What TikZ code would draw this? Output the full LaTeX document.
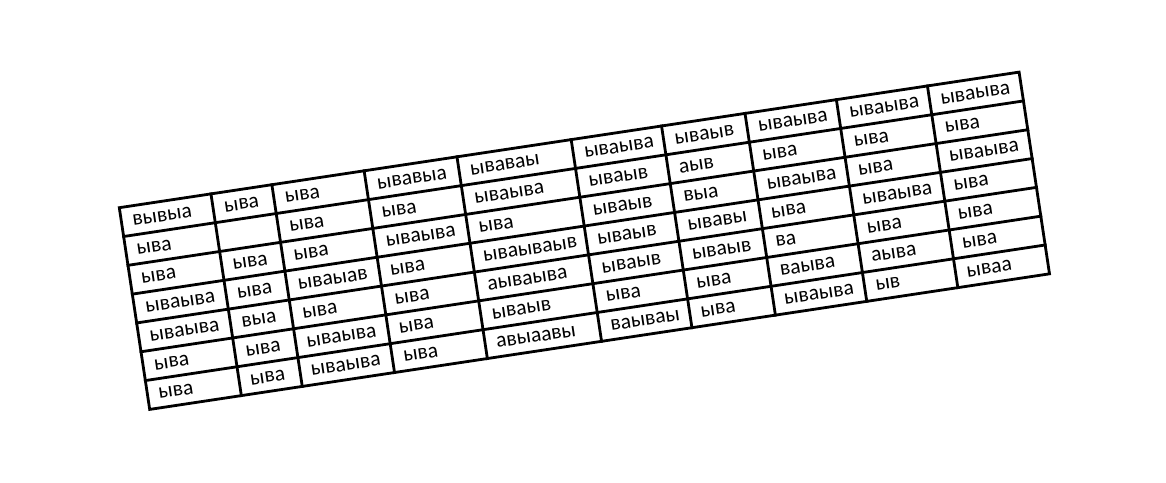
\documentclass[tikz,border=0pt]{standalone}
\usepackage{fontspec}
\setmainfont{Carlito}
\begin{document}
\begin{tikzpicture}[x=1pt,y=1pt]
\useasboundingbox (0,0) rectangle (1166,482);
\tikzset{
  celltext/.style={anchor=base west, inner sep=0pt, font=\fontsize{21.6}{21.6}\selectfont, rotate=8.57},
  gridline/.style={line width=2.8pt, line cap=rect}
}
\def\H{29.14}
\begin{scope}[shift={(119.3,274.3)}, rotate=8.57]
  \draw[gridline] (0,0) rectangle (910,-204);
  \foreach \r in {1,...,6} \draw[gridline] (0,-\r*\H) -- (910,-\r*\H);
  \foreach \c in {92.7,154.3,247.6,341.5,457,548.4,632.8,725.2,817.3} \draw[gridline] (\c,0) -- (\c,-204);
  \foreach \x/\rr/\t [count=\i] in {
    0/1/вывыа, 0/2/ыва, 0/3/ыва, 0/4/ываыва, 0/5/ываыва, 0/6/ыва, 0/7/ыва,
    92.7/1/ыва, 92.7/3/ыва, 92.7/4/ыва, 92.7/5/выа, 92.7/6/ыва, 92.7/7/ыва,
    154.3/1/ыва, 154.3/2/ыва, 154.3/3/ыва, 154.3/4/ываыав, 154.3/5/ыва, 154.3/6/ываыва, 154.3/7/ываыва,
    247.6/1/ывавыа, 247.6/2/ыва, 247.6/3/ываыва, 247.6/4/ыва, 247.6/5/ыва, 247.6/6/ыва, 247.6/7/ыва,
    341.5/1/ываваы, 341.5/2/ываыва, 341.5/3/ыва, 341.5/4/ываываыв, 341.5/5/аываыва, 341.5/6/ываыв, 341.5/7/авыаавы,
    457/1/ываыва, 457/2/ываыв, 457/3/ываыв, 457/4/ываыв, 457/5/ываыв, 457/6/ыва, 457/7/ваываы,
    548.4/1/ываыв, 548.4/2/аыв, 548.4/3/выа, 548.4/4/ывавы, 548.4/5/ываыв, 548.4/6/ыва, 548.4/7/ыва,
    632.8/1/ываыва, 632.8/2/ыва, 632.8/3/ываыва, 632.8/4/ыва, 632.8/5/ва, 632.8/6/ваыва, 632.8/7/ываыва,
    725.2/1/ываыва, 725.2/2/ыва, 725.2/3/ыва, 725.2/4/ываыва, 725.2/5/ыва, 725.2/6/аыва, 725.2/7/ыв,
    817.3/1/ываыва, 817.3/2/ыва, 817.3/3/ываыва, 817.3/4/ыва, 817.3/5/ыва, 817.3/6/ыва, 817.3/7/ываа}
    \node[celltext] (n\i) at (\x+11, -\rr*\H+9) {\t};
\end{scope}
\end{tikzpicture}
\end{document}
